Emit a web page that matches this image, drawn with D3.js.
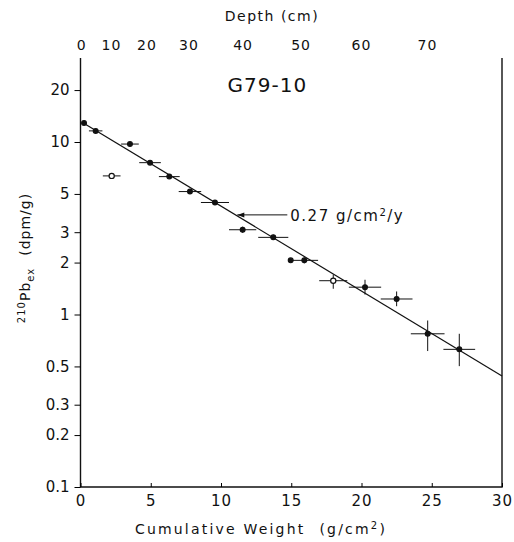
<!DOCTYPE html>
<html lang="en">
<head>
    <meta charset="UTF-8">
    <title>G79-10</title>
    <script src="https://d3js.org/d3.v7.min.js"></script>
    <style>
        body { margin: 0; background: white; }
        text {
            font-family: 'DejaVu Sans', sans-serif;
            fill: #111;
        }
    </style>
</head>
<body>
<script>
    const width = 514;
    const height = 542;

    // cumulative weight (g/cm2), activity (dpm/g), x half-width, y low / high
    const weight = [0.25, 1.08, 2.22, 3.52, 4.95, 6.32, 7.79, 9.57, 11.54, 13.72, 14.96, 15.93, 17.99, 20.25, 22.5, 24.71, 26.96];
    const activity = [12.9, 11.6, 6.36, 9.73, 7.59, 6.3, 5.16, 4.46, 3.1, 2.8, 2.06, 2.06, 1.57, 1.44, 1.23, 0.773, 0.628];
    const weightErr = [0, 0.48, 0.63, 0.63, 0.77, 0.74, 0.8, 1.0, 0.97, 1.07, 0, 0.98, 1.0, 1.15, 1.13, 1.2, 1.13];
    const activityLo = [12.9, 11.6, 6.36, 9.73, 7.59, 6.3, 5.16, 4.46, 2.98, 2.72, 2.06, 1.98, 1.41, 1.305, 1.117, 0.614, 0.502];
    const activityHi = [12.9, 11.6, 6.36, 9.73, 7.59, 6.3, 5.16, 4.46, 3.23, 2.9, 2.06, 2.14, 1.70, 1.59, 1.36, 0.923, 0.773];
    const openPoint = [false, false, true, false, false, false, false, false, false, false, false, false, true, false, false, false, false];

    // fitted line end points
    const fitX = [0.2, 30];
    const fitY = [12.9, 0.44];

    const xTicks = [0, 5, 10, 15, 20, 25, 30];
    const yTicks = [0.1, 0.2, 0.3, 0.5, 1, 2, 3, 5, 10, 20];
    // depth labels (cm) and where they sit on the weight axis
    const depthLabels = [0, 10, 20, 30, 40, 50, 60, 70];
    const depthAtWeight = [0.08, 2.2, 4.73, 7.72, 11.57, 15.7, 20.0, 24.7];

    const plotLeft = 80.5, plotRight = 502, plotBottom = 487, plotTop = 58;

    const x = d3.scaleLinear().domain([0, 30]).range([plotLeft, plotRight]);
    const y = d3.scaleLog().domain([0.1, 10]).range([plotBottom, 142]);

    const svg = d3.select("body").append("svg").attr("width", width).attr("height", height);

    // frame: left, bottom, right
    svg.append("path")
        .attr("d", `M${plotLeft},${plotTop}V${plotBottom}H${plotRight}V${plotTop}`)
        .attr("fill", "none").attr("stroke", "#111").attr("stroke-width", 1.4);

    // bottom axis
    const xAxis = svg.append("g").attr("transform", `translate(0,${plotBottom})`)
        .call(d3.axisBottom(x).tickValues(xTicks).tickSize(-4).tickPadding(8).tickFormat(d3.format("d")));
    xAxis.select(".domain").remove();
    xAxis.selectAll("text").style("font-size", "15px").style("letter-spacing", "1px");

    // left axis
    const yAxis = svg.append("g").attr("transform", `translate(${plotLeft},0)`)
        .call(d3.axisLeft(y).tickValues(yTicks).tickSize(6).tickPadding(5).tickFormat(d => d));
    yAxis.select(".domain").remove();
    yAxis.selectAll("text").style("font-size", "15px");

    // top depth labels
    svg.append("g").selectAll("text")
        .data(depthLabels).join("text")
        .attr("x", (d, i) => x(depthAtWeight[i]))
        .attr("y", 50)
        .attr("text-anchor", "middle")
        .style("font-size", "14px")
        .style("letter-spacing", "1px")
        .text(d => d);

    svg.append("text").attr("x", 272).attr("y", 21).attr("text-anchor", "middle")
        .style("font-size", "14px").style("letter-spacing", "1.5px").text("Depth (cm)");

    svg.append("text").attr("x", 261).attr("y", 534).attr("text-anchor", "middle")
        .style("font-size", "14px").style("letter-spacing", "2.2px")
        .html('Cumulative Weight<tspan dx="14">(g/cm</tspan><tspan dy="-5" font-size="10px">2</tspan><tspan dy="5">)</tspan>');

    // y label
    svg.append("text")
        .attr("transform", `translate(30,${258}) rotate(-90)`)
        .attr("text-anchor", "middle")
        .style("font-size", "14px").style("letter-spacing", "1px")
        .html('<tspan dy="-5" font-size="10px">210</tspan><tspan dy="5">Pb</tspan><tspan dy="4" font-size="10px">ex</tspan><tspan dy="-4" dx="12">(dpm/g)</tspan>');

    // title
    svg.append("text").attr("x", x(13.3)).attr("y", y(19.5))
        .attr("text-anchor", "middle")
        .style("font-size", "20px").style("letter-spacing", "1px")
        .text("G79-10");

    // fitted line
    svg.append("line")
        .attr("x1", x(fitX[0])).attr("y1", y(fitY[0]))
        .attr("x2", x(fitX[1])).attr("y2", y(fitY[1]))
        .attr("stroke", "#111").attr("stroke-width", 1.2);

    // annotation arrow
    const arrowTip = [11.16, 3.78], arrowTail = [14.72, 3.78];
    svg.append("line")
        .attr("x1", x(arrowTail[0])).attr("y1", y(arrowTail[1]))
        .attr("x2", x(arrowTip[0])).attr("y2", y(arrowTip[1]))
        .attr("stroke", "#111").attr("stroke-width", 1);
    svg.append("path")
        .attr("d", `M${x(arrowTip[0])},${y(arrowTip[1])}l7,-2.5v5z`)
        .attr("fill", "#111");
    svg.append("text")
        .attr("x", x(arrowTail[0]) + 3).attr("y", y(arrowTip[1]) + 6)
        .style("font-size", "15px").style("letter-spacing", "1.5px")
        .html('0.27 g/cm<tspan dy="-5" font-size="10px">2</tspan><tspan dy="5">/y</tspan>');

    const pts = weight.map((w, i) => ({
        w, v: activity[i], dw: weightErr[i], lo: activityLo[i], hi: activityHi[i], open: openPoint[i]
    }));

    const marks = svg.append("g");
    marks.selectAll("line.xe")
        .data(pts.filter(d => d.dw > 0)).join("line")
        .attr("class", "xe")
        .attr("x1", d => x(d.w - d.dw)).attr("x2", d => x(d.w + d.dw))
        .attr("y1", d => y(d.v)).attr("y2", d => y(d.v))
        .attr("stroke", "#111").attr("stroke-width", 1);
    marks.selectAll("line.ye")
        .data(pts.filter(d => d.hi > d.lo)).join("line")
        .attr("class", "ye")
        .attr("x1", d => x(d.w)).attr("x2", d => x(d.w))
        .attr("y1", d => y(d.lo)).attr("y2", d => y(d.hi))
        .attr("stroke", "#111").attr("stroke-width", 1);
    marks.selectAll("circle")
        .data(pts).join("circle")
        .attr("cx", d => x(d.w)).attr("cy", d => y(d.v))
        .attr("r", d => d.open ? 2.6 : 2.4)
        .attr("fill", d => d.open ? "white" : "#111")
        .attr("stroke", "#111").attr("stroke-width", 1.2);
</script>
</body>
</html>
